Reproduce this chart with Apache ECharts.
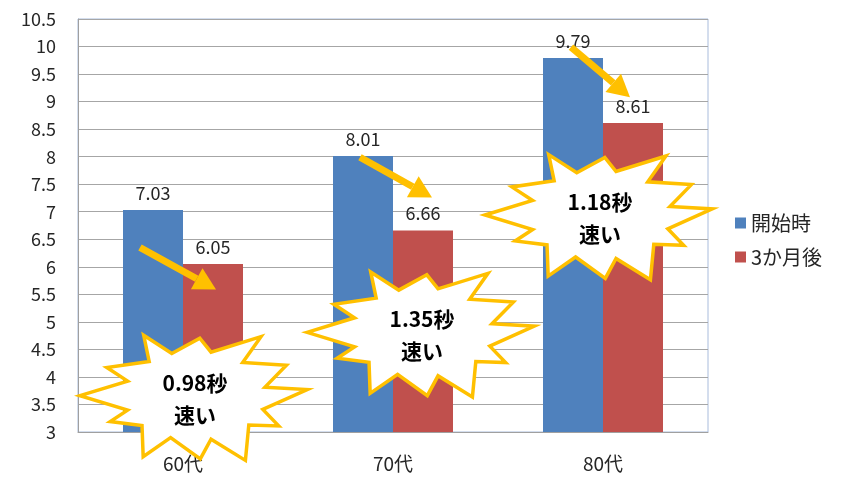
<!DOCTYPE html>
<html><head><meta charset="utf-8">
<script src="https://cdn.jsdelivr.net/npm/echarts@6/dist/echarts.min.js"></script>
<style>html,body{margin:0;padding:0;background:#fff}#c{width:844px;height:479px}</style>
</head><body><div id="c"></div>
<script>
const categories = ['60代', '70代', '80代'];
const seriesNames = ['開始時', '3か月後'];
const startValues = [7.03, 8.01, 9.79];
const afterValues = [6.05, 6.66, 8.61];
const diffLabels = ['0.98秒', '1.35秒', '1.18秒'];
const subLabel = '速い';
// annotation anchors: [category index, pixel offset from category centre, value]
const arrowStarts = [[0, -43, 6.35], [1, -33, 7.99], [2, -32, 9.99]];
const arrowEnds = [[0, 33, 5.59], [1, 39, 7.26], [2, 27, 9.08]];
const starCentres = [[0, 12, 3.66], [1, 29, 4.81], [2, -3, 6.94]];

const FONT = '"Noto Sans CJK JP", "Noto Sans", sans-serif';
const chart = echarts.init(document.getElementById('c'));
const labelStyle = {show: true, position: 'top', distance: 8, fontSize: 18, color: '#262626', fontFamily: FONT};
chart.setOption({
  animation: false,
  textStyle: {fontFamily: FONT},
  grid: {left: 78, right: 136, top: 19, bottom: 47, show: true, borderColor: '#a9bcdc', borderWidth: 1},
  legend: {
    orient: 'vertical', left: 730, top: 208, itemWidth: 11, itemHeight: 11, itemGap: 14,
    icon: 'rect', textStyle: {fontSize: 20, color: '#262626', fontFamily: FONT},
    data: seriesNames
  },
  xAxis: {
    type: 'category', data: categories,
    axisLine: {lineStyle: {color: '#a0a0a0'}}, axisTick: {show: false},
    axisLabel: {fontSize: 19, color: '#262626', margin: 22, fontFamily: FONT}
  },
  yAxis: {
    type: 'value', min: 3, max: 10.5, interval: 0.5,
    axisLine: {show: true, lineStyle: {color: '#a0a0a0'}}, axisTick: {show: false},
    axisLabel: {fontSize: 18, color: '#262626', margin: 22, fontFamily: FONT},
    splitLine: {lineStyle: {color: '#a6a6a6', width: 1}}
  },
  series: [
    {name: seriesNames[0], type: 'bar', data: startValues, barWidth: 60, barGap: '0%',
     itemStyle: {color: '#4f81bd'}, label: labelStyle},
    {name: seriesNames[1], type: 'bar', data: afterValues, barWidth: 60, barGap: '0%',
     itemStyle: {color: '#c0504d'}, label: labelStyle}
  ]
});

function px(a) {
  const p = chart.convertToPixel({gridIndex: 0}, [categories[a[0]], a[2]]);
  return [p[0] + a[1], p[1]];
}
// irregular explosion outline (normalized shape constants)
const outerR = [1.0, 0.86, 0.95, 0.8, 1.0, 0.9, 0.98, 0.84, 1.0, 0.88, 0.96, 0.82];
const jitter = [0, 4, -3, 5, 2, -4, 3, -2, 5, -3, 2, 4, -5, 3, 0, -4, 4, 2, -3, 5, -2, 3, 4, -4];
function starPoints(c) {
  const pts = [];
  for (let i = 0; i < 24; i++) {
    const ang = (180 + i * 15 + jitter[i]) * Math.PI / 180;
    const r = i % 2 === 0 ? outerR[i / 2] : 0.62;
    pts.push([c[0] + Math.cos(ang) * 115 * r, c[1] + Math.sin(ang) * 72 * r]);
  }
  return pts;
}
const graphics = [];
for (let i = 0; i < categories.length; i++) {
  const s = px(arrowStarts[i]), e = px(arrowEnds[i]);
  const dx = e[0] - s[0], dy = e[1] - s[1];
  const len = Math.sqrt(dx * dx + dy * dy);
  const ux = dx / len, uy = dy / len;
  const hb = [e[0] - ux * 22, e[1] - uy * 22];
  graphics.push({type: 'line', z: 100, shape: {x1: s[0], y1: s[1], x2: hb[0], y2: hb[1]},
    style: {stroke: '#ffc000', lineWidth: 7}});
  graphics.push({type: 'polygon', z: 101, shape: {points: [e, [hb[0] - uy * 12, hb[1] + ux * 12], [hb[0] + uy * 12, hb[1] - ux * 12]]},
    style: {fill: '#ffc000'}});
  const c = px(starCentres[i]);
  graphics.push({type: 'polygon', z: 102, shape: {points: starPoints(c)},
    style: {fill: '#ffffff', stroke: '#ffc000', lineWidth: 3.5, lineJoin: 'miter'}});
  graphics.push({type: 'text', z: 103, x: c[0], y: c[1] + 3,
    style: {text: diffLabels[i] + '\n' + subLabel, fill: '#000', font: 'bold 21px ' + FONT,
      align: 'center', verticalAlign: 'middle', lineHeight: 32}});
}
chart.setOption({graphic: graphics});
</script></body></html>
